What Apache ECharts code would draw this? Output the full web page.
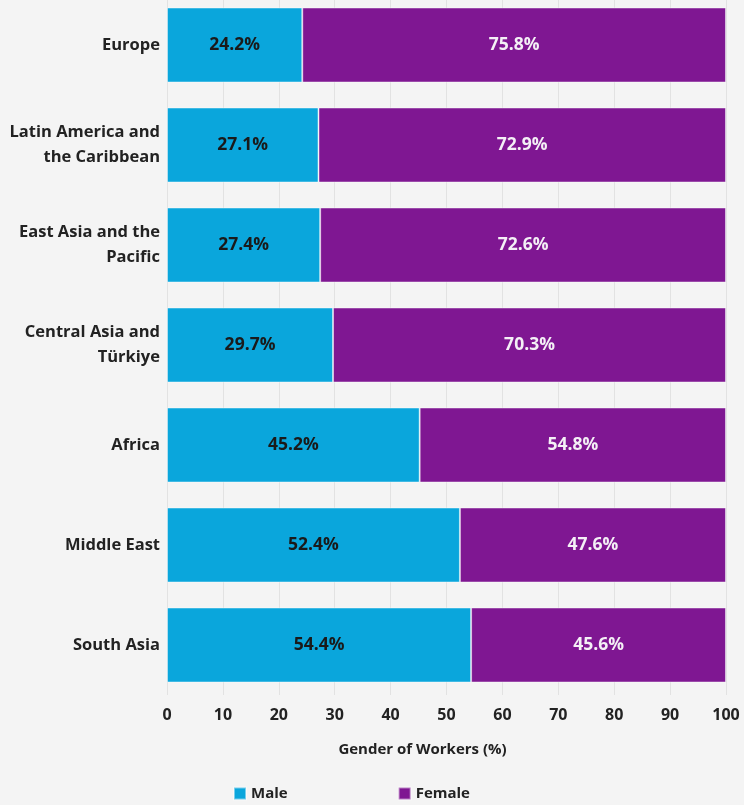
<!DOCTYPE html>
<html><head><meta charset="utf-8">
<script src="https://cdn.jsdelivr.net/npm/echarts@6/dist/echarts.min.js"></script>
<style>html,body{margin:0;padding:0;background:#f4f4f4;}#c{width:744px;height:805px;}</style>
</head><body><div id="c"></div>
<script>
var categories = ["Europe", "Latin America and\nthe Caribbean", "East Asia and the\nPacific", "Central Asia and\nTürkiye", "Africa", "Middle East", "South Asia"];
var maleValues = [24.2, 27.1, 27.4, 29.7, 45.2, 52.4, 54.4];
var femaleValues = [75.8, 72.9, 72.6, 70.3, 54.8, 47.6, 45.6];
var xTicks = [0, 10, 20, 30, 40, 50, 60, 70, 80, 90, 100];

var FONT = '"Open Sans", "Noto Sans", sans-serif';
var chart = echarts.init(document.getElementById('c'), null, {renderer: 'canvas'});
chart.setOption({
  backgroundColor: '#f4f4f4',
  animation: false,
  textStyle: {fontFamily: FONT},
  grid: {left: 167, right: 18, top: -5, height: 700, outerBoundsMode: 'none', containLabel: false},
  legend: {
    data: ['Male', 'Female'],
    bottom: -1, left: 228,
    itemWidth: 12, itemHeight: 12, itemGap: 110,
    icon: 'rect',
    textStyle: {fontFamily: FONT, fontSize: 15, fontWeight: 'bold', color: '#222'}
  },
  xAxis: {
    type: 'value', min: xTicks[0], max: xTicks[xTicks.length - 1], interval: 10,
    name: 'Gender of Workers (%)', nameLocation: 'middle', nameGap: 47,
    nameTextStyle: {fontFamily: FONT, fontSize: 15, fontWeight: 'bold', color: '#222', padding: [0, 48, 0, 0]},
    axisLine: {show: false},
    axisTick: {show: false},
    axisLabel: {fontFamily: FONT, fontSize: 16, fontWeight: 'bold', color: '#222', margin: 12},
    splitLine: {show: true, lineStyle: {color: '#e2e2e2', width: 1}}
  },
  yAxis: {
    type: 'category', data: categories, inverse: true,
    axisLine: {show: false}, axisTick: {show: false},
    axisLabel: {fontFamily: FONT, fontSize: 16.5, fontWeight: 'bold', color: '#222', margin: 7, lineHeight: 25, align: 'right'}
  },
  series: [
    {
      name: 'Male', type: 'bar', stack: 'g', data: maleValues, barWidth: 75,
      itemStyle: {color: '#0aa6dc', borderColor: 'rgba(255,255,255,0.45)', borderWidth: 1},
      label: {show: true, position: 'inside', formatter: function(p){return p.value.toFixed(1) + '%';},
        fontFamily: FONT, fontSize: 17.5, fontWeight: 'bold', color: '#1a1a1a'}
    },
    {
      name: 'Female', type: 'bar', stack: 'g', data: femaleValues, barWidth: 75,
      itemStyle: {color: '#7f1792', borderColor: 'rgba(255,255,255,0.45)', borderWidth: 1},
      label: {show: true, position: 'inside', formatter: function(p){return p.value.toFixed(1) + '%';},
        fontFamily: FONT, fontSize: 17.5, fontWeight: 'bold', color: '#f4f0f6'}
    }
  ]
});
</script></body></html>
